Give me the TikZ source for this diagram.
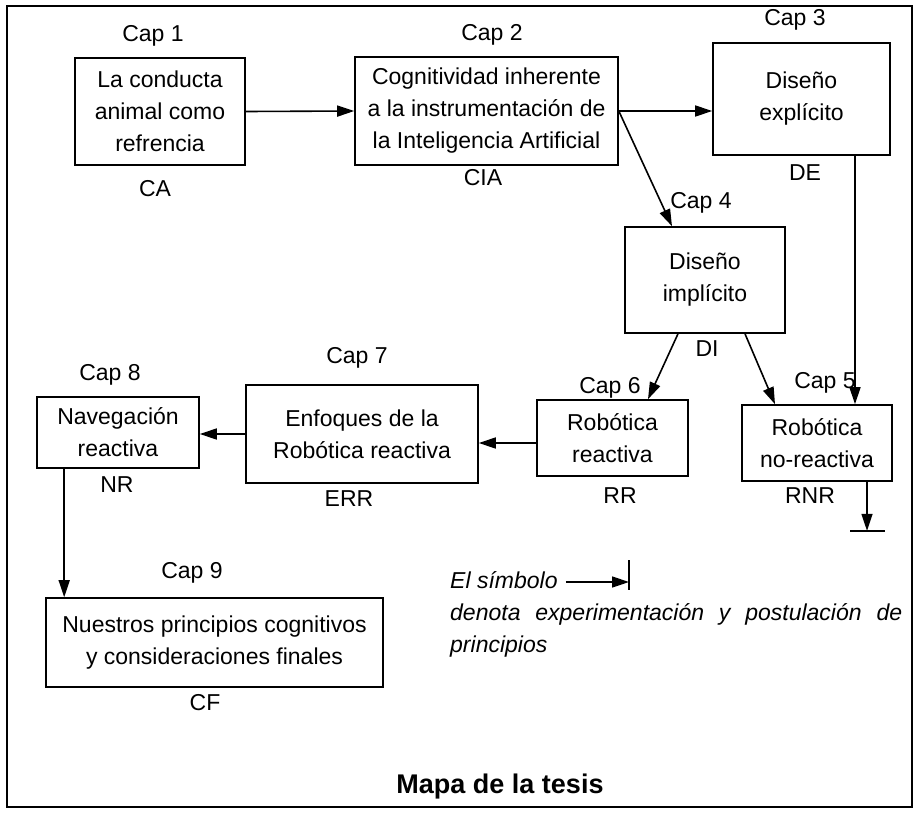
\documentclass[tikz,border=0pt]{standalone}
\usepackage{fontspec}
\setmainfont{Liberation Sans}
\usetikzlibrary{positioning, arrows.meta, calc}

\begin{document}
\begin{tikzpicture}[x=1pt, y=-1pt, >={Triangle[length=17pt, width=11pt]},
      font=\fontsize{23}{32}\selectfont,
      caja/.style={draw, line width=1.6pt, align=center, inner sep=0pt},
      etiq/.style={anchor=base, inner sep=0pt},
      sigla/.style={anchor=base, inner sep=0pt},
      nota/.style={font=\fontsize{23}{32}\selectfont\itshape, inner sep=0pt, align=left},
      flecha/.style={->, line width=1.6pt}]
    \useasboundingbox (0,0) rectangle (919,812);
    \draw[line width=1.8pt] (7,6) rectangle (912,807);
    % capitulos
    \node[caja, minimum width=170pt, minimum height=107pt] (ca)  at (160,111.5) {La conducta\\ animal como\\ refrencia};
    \node[caja, minimum width=263pt, minimum height=108pt] (cia) at (486.5,111) {Cognitividad inherente\\ a la instrumentación de\\ la Inteligencia Artificial};
    \node[caja, minimum width=177pt, minimum height=112pt] (de)  at (801.5,99)  {Diseño\\ explícito};
    \node[caja, minimum width=160pt, minimum height=106pt] (di)  at (705,280)   {Diseño\\ implícito};
    \node[caja, minimum width=151pt, minimum height=76pt]  (rr)  at (612.5,438) {Robótica\\ reactiva};
    \node[caja, minimum width=150pt, minimum height=76pt]  (rnr) at (817,443)   {Robótica\\ no-reactiva};
    \node[caja, minimum width=232pt, minimum height=98pt]  (err) at (362,434)   {Enfoques de la\\ Robótica reactiva};
    \node[caja, minimum width=162pt, minimum height=71pt]  (nr)  at (118,432.5) {Navegación\\ reactiva};
    \node[caja, minimum width=337pt, minimum height=89pt]  (cf)  at (214.5,642.5) {Nuestros principios cognitivos\\ y consideraciones finales};
    % numeros de capitulo
    \foreach \n/\x/\y in {1/153/41, 2/492/40, 3/795/25, 4/701/208, 5/825/388,
                          6/610/393, 7/357/363, 8/110/380, 9/192/578}
      \node[etiq] (cap\n) at (\x,\y) {Cap \n};
    % siglas
    \foreach \s/\x/\y in {CA/155/196, CIA/483/185, DE/805/180, DI/707/356, RR/620/503,
                          RNR/810/503, ERR/349/506, NR/117/492, CF/205/710}
      \node[sigla] (s\s) at (\x,\y) {\s};
    % flechas
    \draw[flecha] (ca.east) -- (cia.west);
    \draw[flecha] (cia.east) -- (cia.east -| de.west);
    \draw[flecha] (cia.east) -- ($(di.north)+(-33,0)$);
    \draw[flecha] ($(di.south)+(-27,0)$) -- ($(rr.north)+(35.5,0)$);
    \draw[flecha] ($(di.south)+(40,0)$) -- ($(rnr.north)+(-42,0)$);
    \coordinate (de5) at ($(de.south)+(53.5,0)$);
    \draw[flecha] (de5) -- (de5 |- rnr.north);
    \coordinate (rr7) at ($(rr.west)+(0,5)$);
    \draw[flecha] (rr7) -- (rr7 -| err.east);
    \draw[flecha] (err.west) -- (err.west -| nr.east);
    \coordinate (nr9) at ($(nr.south west)+(28,0)$);
    \draw[flecha] (nr9) -- (nr9 |- cf.north);
    \coordinate (fin) at ($(rnr.south)+(50,49)$);
    \draw[flecha] (fin |- rnr.south) -- (fin);
    \draw[line width=1.6pt] ($(fin)+(-17,0)$) -- ($(fin)+(18,0)$);
    % simbolo
    \node[nota, anchor=base west] (simbolo) at (450,588) {El símbolo};
    \coordinate (tope) at (629,582);
    \draw[flecha] (simbolo.east |- tope) ++(8,0) -- (tope);
    \draw[line width=1.6pt] ($(tope)+(0,-22)$) -- ($(tope)+(0,8)$);
    \node[nota, anchor=base west] (denota) at (450,652)
      {\makebox[452pt][s]{denota experimentación y postulación de}\\ principios};
    \node[anchor=base, inner sep=0pt, font=\fontsize{27}{32}\selectfont\bfseries] (titulo) at (500,793) {Mapa de la tesis};
  \end{tikzpicture}
\end{document}
